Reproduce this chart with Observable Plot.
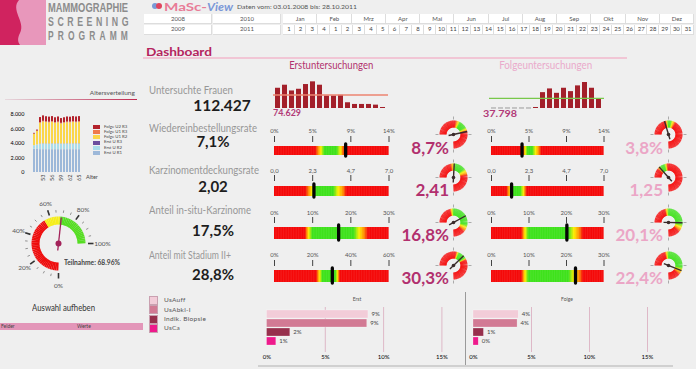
<!DOCTYPE html>
<html><head><meta charset="utf-8">
<script src="https://cdn.jsdelivr.net/npm/d3@7"></script>
<script src="https://cdn.jsdelivr.net/npm/@observablehq/plot@0.6"></script>
<style>
body{margin:0;background:#efefef;}
#root{position:relative;width:696px;height:369px;overflow:hidden;background:#efefef;font-family:Lato,sans-serif;}
#root svg{position:absolute;}
</style></head>
<body><div id="root"></div>
<script>
// ---------------- DATA ----------------
const years1 = ["2008", "2010"];
const years2 = ["2009", "2011"];
const months = ["Jan","Feb","Mrz","Apr","Mai","Jun","Jul","Aug","Sep","Okt","Nov","Dez"];
const quarters = ["1","2","3","4"];
const days = ["1","2","3","4","5","6","7","8","9","10","11","12","13","14","15","16","17","18","19","20","21","22","23","24","25","26","27","28","29","30","31"];

const ages = [50,51,52,53,54,55,56,57,58,59,60,61,62,63,64,65];
const ageTicks = [53,56,59,62,65];
const ageSeries = ["Erst U R1","Erst U R2","Erst U R3","Folge U1 R2","Folge U1 R3","Folge U2 R3"];
const ageColors = ["#9db8d9","#aadcea","#6b4e9e","#fbd64a","#ef7a4c","#b3222c"];
const erstR1  = [3200,3250,3150,3150,3150,3150,3150,3150,3150,3150,3150,3150,3150,3150,3150,3150];
const erstR2  = [500,550,750,780,760,760,780,760,780,760,760,780,770,780,780,780];
const erstR3  = [0,0,30,30,30,30,30,30,30,30,30,30,30,30,30,30];
const folgeU1R2 = [1600,1900,2850,3000,2950,2900,2950,2850,2900,2750,2850,2900,2900,2950,2900,2950];
const folgeU1R3 = [0,0,100,100,100,100,100,100,100,100,100,100,100,100,100,100];
const folgeU2R3 = [100,150,700,750,700,700,700,660,700,650,660,700,680,700,700,700];
const ageYTicks = [0,2000,4000,6000,8000];

const totalFrauen = "112.427";
const erstSpark = [60,69,52,57,71,79,69,37,37,39,17,12,12,12,10,3];
const erstSparkRef = 40;
const erstTotal = "74.629";
const folgeSpark = [0,0,0,0,0,0,3,47,58,45,60,50,67,77,60,27];
const folgeSparkRef = 30;
const folgeTotal = "37.798";

const metricNames = ["Wiedereinbestellungsrate","Karzinomentdeckungsrate","Anteil in-situ-Karzinome","Anteil mit Stadium II+"];
const metricTotals = ["7,1%","2,02","17,5%","28,8%"];
const erstValues = [8.7, 2.41, 16.8, 30.3];
const folgeValues = [3.8, 1.25, 20.1, 22.4];
const erstLabels = ["8,7%","2,41","16,8%","30,3%"];
const folgeLabels = ["3,8%","1,25","20,1%","22,4%"];
const erstMax = [14, 7, 30, 60];
const folgeMax = [14, 7, 30, 30];
const erstTickLabels = [["0%","5%","9%","14%"],["0,0","2,3","4,7","7,0"],["0%","10%","20%","30%"],["0%","20%","40%","60%"]];
const folgeTickLabels = [["0%","5%","9%","14%"],["0,0","2,3","4,7","7,0"],["0%","10%","20%","30%"],["0%","10%","20%","30%"]];
// zone stops [value, colour]
const R="#f50a0a", O="#ff8c00", Y="#fff000", G="#3fe21c";
const erstZones = [
  [[0,R],[5.0,R],[5.35,O],[5.7,Y],[6.1,G],[7.6,G],[8.1,Y],[8.6,R],[14,R]],
  [[0,R],[1.9,R],[2.1,O],[2.3,Y],[2.5,G],[3.6,G],[3.9,Y],[4.2,O],[4.4,R],[7,R]],
  [[0,R],[8.0,R],[8.5,O],[9.0,Y],[9.9,G],[20.8,G],[22.2,Y],[23.5,O],[24.5,R],[30,R]],
  [[0,R],[22,R],[22.8,O],[23.8,Y],[25,G],[32,G],[33,Y],[34.3,R],[60,R]]
];
const folgeZones = [
  [[0,R],[3.9,R],[4.2,Y],[4.5,G],[5.1,G],[5.5,Y],[5.9,O],[6.2,R],[14,R]],
  [[0,R],[0.95,R],[1.05,O],[1.2,Y],[1.35,G],[1.8,G],[2.0,Y],[2.2,R],[7,R]],
  [[0,R],[8.0,R],[8.5,O],[9.0,Y],[9.9,G],[20.6,G],[22.0,Y],[23.4,O],[24.4,R],[30,R]],
  [[0,R],[8.0,R],[8.5,O],[9.0,Y],[9.9,G],[20.6,G],[22.0,Y],[23.4,O],[24.4,R],[30,R]]
];

const teilnahme = 68.96;
const teilnahmeZones = [[0,55,"#ee0d0d"],[55,68,"#f6ee1a"],[68,100,"#55dd22"]];
const teilnahmeTicks = [0,20,40,60,80,100];

const befundCats = ["UsAuff","UsAbkl-I","Indik. Biopsie","UsCa"];
const befundColors = ["#f2ccd8","#d27a94","#97304d","#ee1a8c"];
const befundErst = [8.7, 8.6, 2.0, 0.8];
const befundFolge = [3.9, 3.8, 0.9, 0.45];
const befundTicks = [0,5,10,15];

// ---------------- HELPERS ----------------
const root = document.getElementById("root");
const de = d3.formatLocale({decimal:",", thousands:".", grouping:[3], currency:["","€"]});
const fmtDE = de.format(",d");

function text(str, o){
  const el = document.createElement("div");
  el.textContent = str;
  const size = o.size || 10;
  const lh = o.lh || 1;
  const capTop = o.capTop !== undefined ? o.capTop : 0.167;
  Object.assign(el.style, {position:"absolute", whiteSpace:"nowrap", lineHeight:String(lh),
    fontFamily: o.font || "Lato, sans-serif", fontSize: size+"px", fontWeight: o.weight || "normal",
    color: o.color || "#333", letterSpacing: (o.ls||0)+"px", fontStyle: o.italic ? "italic" : "normal"});
  root.appendChild(el);
  const bw = el.getBoundingClientRect().width;
  const sx = o.w ? o.w / bw : 1;
  const anchor = o.anchor || "start";
  const left = anchor === "start" ? o.x : anchor === "middle" ? o.x - bw/2 : o.x - bw;
  el.style.left = left + "px";
  el.style.top = (o.y - ((lh - 1)/2 + capTop)*size) + "px";
  el.style.transformOrigin = (anchor === "start" ? "left" : anchor === "middle" ? "center" : "right") + " top";
  el.style.transform = `scaleX(${sx})`;
  return el;
}
function box(x, y, w, h, style){
  const el = document.createElement("div");
  Object.assign(el.style, {position:"absolute", left:x+"px", top:y+"px", width:w+"px", height:h+"px"}, style||{});
  root.appendChild(el);
  return el;
}
function put(plot, x, y){
  plot.style.position = "absolute";
  plot.style.left = x + "px";
  plot.style.top = y + "px";
  root.appendChild(plot);
  return plot;
}
const baseStyle = {background:"transparent", overflow:"visible", fontFamily:"Lato, sans-serif"};

// ---------------- HEADER ----------------
(function(){
  const ns = "http://www.w3.org/2000/svg";
  const s = document.createElementNS(ns, "svg");
  s.setAttribute("width", 46); s.setAttribute("height", 45);
  s.style.left = "0px"; s.style.top = "0px";
  s.innerHTML = '<rect x="0" y="0" width="46" height="45" fill="#e897bb"/>' +
    '<path d="M0,0 H19 C10,10 26,22 20,33 C17,39 18,42 20,45 H0 Z" fill="#d0235f"/>';
  root.appendChild(s);
})();
const logoFont = {font:"'Liberation Sans', Arial, sans-serif", size:12.3, weight:"bold", color:"#8c8c8c", capTop:0.13};
text("MAMMOGRAPHIE", {...logoFont, x:48, y:4, w:80});
text("SCREENING", {...logoFont, x:48, y:18, ls:5, w:84});
text("PROGRAMM", {...logoFont, x:48, y:32, ls:6, w:84});

box(152, 3, 6, 6, {borderRadius:"50%", background:"#7b9ad6"});
box(156, 3, 6, 6, {borderRadius:"50%", background:"#e0455e"});
text("MaSc-", {x:164, y:3, size:12, weight:"bold", color:"#e87c97", w:43});
text("View", {x:207, y:3, size:12, weight:"bold", color:"#7b98d8", italic:true, w:26});
text("Daten  vom: 03.01.2008  bis: 28.10.2011", {x:237, y:5.5, size:6.5, color:"#555", w:120});

const cellStyle = {background:"#fff", borderRight:"1px solid #ddd", borderBottom:"1px solid #ddd", boxSizing:"border-box"};
[[years1,14],[years2,24.5]].forEach(([ys, y]) => {
  ys.forEach((t, i) => {
    const x = 144 + i*69;
    box(x, y, 68, 10, cellStyle);
    text(t, {x:x+34, y:y+3, size:6, color:"#555", anchor:"middle"});
  });
});
const tx0 = 283, tx1 = 694;
const mw = (tx1 - tx0) / months.length;
months.forEach((m, i) => {
  box(tx0 + i*mw, 14, mw, 10, cellStyle);
  text(m, {x:tx0 + (i+0.5)*mw, y:17, size:6, color:"#555", anchor:"middle"});
});
const dayCells = quarters.concat(days);
const dw = (tx1 - tx0) / dayCells.length;
dayCells.forEach((d, i) => {
  box(tx0 + i*dw, 24.5, dw, 10, cellStyle);
  text(d, {x:tx0 + (i+0.5)*dw, y:27.5, size:6, color:"#444", anchor:"middle"});
});

text("Dashboard", {x:146, y:48, size:11, weight:"bold", color:"#b5245e", w:66});
box(143, 57, 484, 1.5, {background:"#f1c6d5"});
text("Erstuntersuchungen", {x:331, y:62, size:10.5, color:"#b2326d", anchor:"middle", w:84});
text("Folgeuntersuchungen", {x:546, y:62, size:10.5, color:"#eaaacb", anchor:"middle", w:93});

// ---------------- LEFT PANEL ----------------
text("Altersverteilung", {x:135, y:91, size:6, color:"#555", anchor:"end", w:45});
box(5, 98.5, 132, 1, {background:"linear-gradient(to right,#e6d9de,#c0284f)"});

const ageData = [];
const ageCols = [erstR1, erstR2, erstR3, folgeU1R2, folgeU1R3, folgeU2R3];
ages.forEach((a, i) => ageSeries.forEach((s, k) => ageData.push({age:a, series:s, value:ageCols[k][i]})));
put(Plot.plot({
  width: 86, height: 80, marginLeft: 30, marginRight: 3, marginTop: 6, marginBottom: 16,
  style: {...baseStyle, fontSize:"5.5px"},
  x: {domain: ages, padding: 0.22, axis: null},
  y: {domain: [0, 8000], ticks: ageYTicks, tickFormat: fmtDE, tickSize: 0, tickPadding: 6, label: null},
  color: {domain: ageSeries, range: ageColors},
  marks: [
    Plot.barY(ageData, {x:"age", y:"value", fill:"series", order: ageSeries}),
    Plot.axisX(ageTicks, {anchor:"bottom", tickSize:0, tickRotate:-90, tickPadding:2, fontSize:5.5, fill:"#444", label:null, textAnchor:"end"})
  ]
}), 0, 108);
text("Alter", {x:86, y:176, size:5.5, color:"#444"});
ageSeries.slice().reverse().forEach((s, i) => {
  const c = ageColors[ageSeries.length - 1 - i];
  const y = 125 + i*5.2;
  box(93, y, 7, 4, {background:c});
  text(s, {x:104, y:y+0.5, size:4.3, color:"#444"});
});

(function(){
  const cx = 58, cy = 243;
  const ang = p => (180 + p/100*270) * Math.PI/180;
  const px = (p, r) => r*Math.sin(ang(p));
  const py = (p, r) => r*Math.cos(ang(p));
  const segs = [];
  teilnahmeZones.forEach(([a, b, c]) => {
    const n = Math.ceil((b-a)/1.5);
    for (let i = 0; i < n; i++) segs.push({a: a + (b-a)*i/n, b: Math.min(b, a + (b-a)*(i+1)/n + 0.15), c});
  });
  const minor = d3.range(0, 101, 5).filter(v => v % 20 !== 0);
  const p = Plot.plot({
    width: 120, height: 106, margin: 0,
    style: baseStyle,
    x: {domain: [-cx, 120-cx], axis: null},
    y: {domain: [-(106-53), 53], axis: null},
    marks: [
      Plot.link(segs, {x1: d=>px(d.a,23), y1: d=>py(d.a,23), x2: d=>px(d.b,23), y2: d=>py(d.b,23), stroke: d=>d.c, strokeWidth: 8, strokeLinecap:"butt"}),
      Plot.link(minor, {x1: d=>px(d,31), y1: d=>py(d,31), x2: d=>px(d,33.5), y2: d=>py(d,33.5), stroke:"#777", strokeWidth:0.8}),
      Plot.link(teilnahmeTicks, {x1: d=>px(d,29.5), y1: d=>py(d,29.5), x2: d=>px(d,35), y2: d=>py(d,35), stroke:"#333", strokeWidth:1.6}),
      Plot.text(teilnahmeTicks, {x: d=>px(d,42)+(d===100?2:0), y: d=>py(d,42), text: d=>d+"%", fontSize:6.5, fill:"#555"}),
      Plot.link([teilnahme], {x1: d=>px(d,-7), y1: d=>py(d,-7), x2: d=>px(d,26), y2: d=>py(d,26), stroke:"#a3225a", strokeWidth:1.3}),
      Plot.dot([teilnahme], {x: 0, y: 0, r: 3, fill:"#a3225a"})
    ]
  });
  put(p, 0, cy - 53);
})();
text("Teilnahme: " + teilnahme.toFixed(2) + "%", {x:64, y:261, size:6.5, weight:"bold", color:"#444", w:56});

text("Auswahl aufheben", {x:63.5, y:305, size:9, color:"#333", anchor:"middle", w:63});
box(0, 323, 143, 7, {background:"#e396b9"});
text("Felder", {x:1, y:325, size:5, color:"#444"});
text("Werte", {x:77, y:325, size:5, color:"#444"});

// ---------------- MAIN ROWS ----------------
text("Untersuchte Frauen", {x:149, y:86, size:11, color:"#979797", w:84});
text(totalFrauen, {x:222, y:101, size:15.5, weight:"bold", color:"#1d1d1d", anchor:"middle"});
const labelYs = [124, 166, 206, 251];
const valueYs = [137, 182, 226, 270];
metricNames.forEach((m, i) => {
  text(m, {x:149, y:labelYs[i], size:11, color:"#979797", w: [108,110,102,82][i]});
  text(metricTotals[i], {x:213, y:valueYs[i], size:15, weight:"bold", color:"#1d1d1d", anchor:"middle"});
});

function spark(values, ref, refColor, x0, x1, left, dashesForZero){
  const H = 34;
  const idx = values.map((v, i) => i);
  return put(Plot.plot({
    width: x1 - left + 4, height: H, marginLeft: x0 - left, marginRight: 4, marginTop: 6, marginBottom: 1,
    style: baseStyle,
    x: {domain: idx, padding: 0.25, axis: null},
    y: {domain: [0, 80], axis: null},
    marks: [
      Plot.barY(values.map((v,i)=>({i, v})).filter(d => d.v > 0), {x:"i", y:"v", fill:"#a3202a"}),
      dashesForZero ? Plot.tickY(values.map((v,i)=>({i, v})).filter(d => d.v === 0), {x:"i", y:1.5, stroke:"#9a9a9a", strokeWidth:1}) : null,
      Plot.ruleY([ref], {stroke: refColor, strokeWidth: 1.3})
    ]
  }), left, 75);
}
spark(erstSpark, erstSparkRef, "#ec8470", 273, 388, 270, false);
spark(folgeSpark, folgeSparkRef, "#78c84a", 489, 604, 486, true);
text(erstTotal, {x:273, y:109, size:10, weight:"bold", color:"#b23a78", w:28});
text(folgeTotal, {x:483, y:110, size:10, weight:"bold", color:"#b23a78", w:34});

const rowGeom = [
  {lab:131, t1:136, t2:142, b1:146, b2:155, cy:134, vy:142},
  {lab:171, t1:175, t2:181, b1:186, b2:196, cy:177, vy:184},
  {lab:213, t1:217, t2:223, b1:227, b2:239, cy:222, vy:229},
  {lab:255, t1:260, t2:266, b1:270, b2:282, cy:265, vy:272}
];

function bullet(row, x0, x1, max, tickLabels, zones, value){
  const g = rowGeom[row];
  const top = g.lab - 6, H = g.b2 - top + 4, pad = 8;
  const N = 160;
  const cells = d3.range(N).map(i => ({a: max*i/N, b: Math.min(max, max*(i+1)/N + max*0.004)}));
  const tv = tickLabels.map((t, i) => ({v: max*i/(tickLabels.length-1), t}));
  return put(Plot.plot({
    width: x1 - x0 + 2*pad, height: H, marginLeft: pad, marginRight: pad, marginTop: 0, marginBottom: 0,
    style: baseStyle,
    x: {domain: [0, max], axis: null},
    y: {domain: [0, H], range: [0, H], axis: null},
    color: {type: "linear", domain: zones.map(z => z[0]), range: zones.map(z => z[1])},
    marks: [
      Plot.rect(cells, {x1:"a", x2:"b", y1: g.b1 - top, y2: g.b2 - top, fill: "a"}),
      Plot.ruleX(tv, {x:"v", y1: g.t1 - top, y2: g.t2 - top, stroke:"#444", strokeWidth:1}),
      Plot.text(tv, {x:"v", y: g.lab - top, text:"t", fontSize:6, fill:"#555"}),
      Plot.ruleX([value], {y1: g.b1 - top - 2, y2: g.b2 - top + 1, stroke:"#050505", strokeWidth:3.3, strokeLinecap:"round"})
    ]
  }), x0 - pad, top);
}

function donut(row, cx, max, zones, value){
  const cy = rowGeom[row].cy;
  const S = 22;
  const ang = v => (270 + v/max*270) * Math.PI/180;
  const px = (v, r) => r*Math.sin(ang(v));
  const py = (v, r) => r*Math.cos(ang(v));
  const N = 90;
  const segs = d3.range(N).map(i => ({a: max*i/N, b: Math.min(max, max*(i+1)/N + max*0.003)}));
  const tv = [0, max/3, 2*max/3, max];
  return put(Plot.plot({
    width: 2*S, height: 2*S, margin: 0,
    style: baseStyle,
    x: {domain: [-S, S], axis: null},
    y: {domain: [-S, S], axis: null},
    color: {type: "linear", domain: zones.map(z => z[0]), range: zones.map(z => z[1])},
    marks: [
      Plot.link(segs, {x1: d=>px(d.a,10.5), y1: d=>py(d.a,10.5), x2: d=>px(d.b,10.5), y2: d=>py(d.b,10.5), stroke:"a", strokeWidth:7, strokeLinecap:"butt"}),
      Plot.link(tv, {x1: d=>px(d,15), y1: d=>py(d,15), x2: d=>px(d,18), y2: d=>py(d,18), stroke:"#999", strokeWidth:0.8}),
      Plot.link([value], {x1: d=>px(d,-5), y1: d=>py(d,-5), x2: d=>px(d,14), y2: d=>py(d,14), stroke:"#3a2a2a", strokeWidth:1.4}),
      Plot.dot([value], {x:0, y:0, r:1.8, fill:"#3a2a2a"})
    ]
  }), cx - S, cy - S);
}

metricNames.forEach((m, i) => {
  bullet(i, 273.5, 388, erstMax[i], erstTickLabels[i], erstZones[i], erstValues[i]);
  bullet(i, 490.5, 603, folgeMax[i], folgeTickLabels[i], folgeZones[i], folgeValues[i]);
  donut(i, 453, erstMax[i], erstZones[i], erstValues[i]);
  donut(i, 668, folgeMax[i], folgeZones[i], folgeValues[i]);
  text(erstLabels[i], {x:449, y:rowGeom[i].vy, size:17, weight:"bold", color:"#b2306e", anchor:"end"});
  text(folgeLabels[i], {x:663, y:rowGeom[i].vy, size:17, weight:"bold", color:"#eba6c6", anchor:"end"});
});

// ---------------- BOTTOM ----------------
befundCats.forEach((c, i) => {
  box(149, 296 + i*9.3, 9, 9, {background:befundColors[i], border:"0.5px solid #c9a0b0", boxSizing:"border-box"});
  text(c, {x:164, y:298.5 + i*9.3, size:6.5, color:"#555", ls:0.3});
});

function befund(values, left, zeroX, fiveX, title, titleX){
  const W = 200;
  const x15 = zeroX + 3*(fiveX - zeroX);
  const data = befundCats.map((c, i) => ({c, v: values[i]}));
  put(Plot.plot({
    width: W, height: 70, marginLeft: zeroX - left, marginRight: W - (x15 - left), marginTop: 13, marginBottom: 18,
    style: {...baseStyle, fontSize:"6px"},
    x: {domain: [0, 15], ticks: befundTicks, tickFormat: d => d + "%", tickSize: 0, tickPadding: 7, label: null},
    y: {domain: befundCats, padding: 0.12, axis: null},
    color: {domain: befundCats, range: befundColors},
    marks: [
      Plot.ruleX(befundTicks.slice(1), {stroke:"#d9aabd", strokeWidth:0.8, insetTop:-1, insetBottom:-5}),
      Plot.barX(data, {x:"v", y:"c", fill:"c", stroke:"#fff", strokeOpacity:0.5, strokeWidth:0.5}),
      Plot.text(data, {x:"v", y:"c", text: d => Math.round(d.v) + "%", dx: 3, textAnchor:"start", fontSize:6, fill:"#444"})
    ]
  }), left, 295);
  text(title, {x:titleX, y:298, size:5, color:"#555", anchor:"middle"});
}
befund(befundErst, 250, 266.5, 324.8, "Erst", 357);
befund(befundFolge, 455, 473, 531, "Folge", 567);
box(465, 292, 1, 74, {background:"#9a9a9a"});
box(258, 365, 415, 2, {background:"#d0d0d0"});
</script>
</body></html>
